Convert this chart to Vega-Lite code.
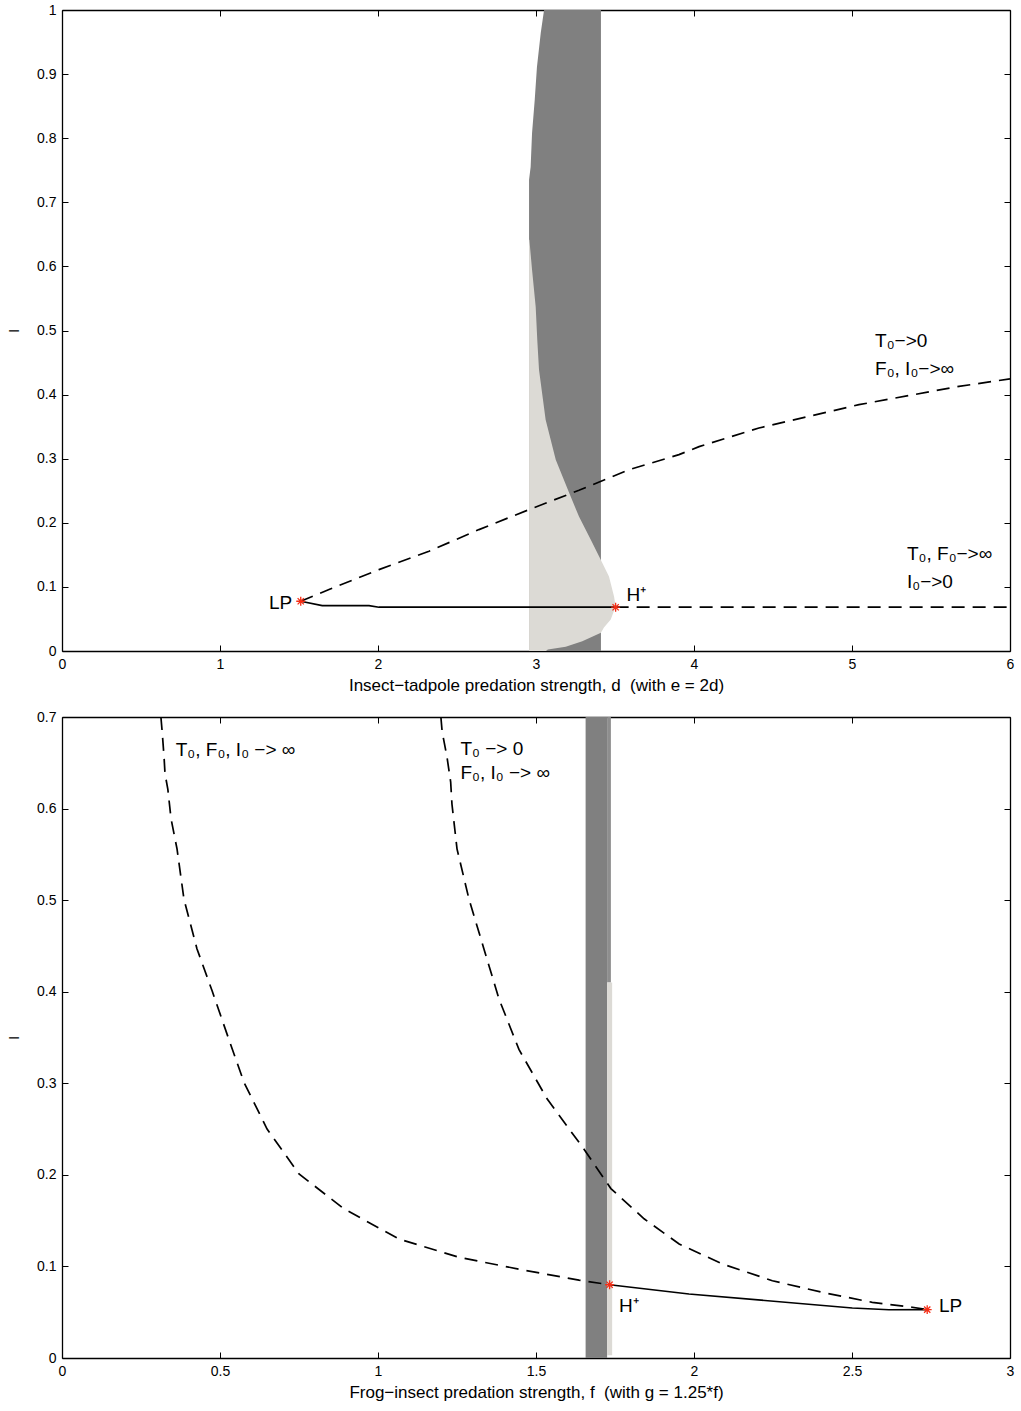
{
  "$schema": "https://vega.github.io/schema/vega-lite/v6.json",
  "padding": {"left": 6, "top": 3, "right": 5, "bottom": 5},
  "background": "white",
  "spacing": 17,
  "config": {
    "font": "Liberation Sans",
    "view": {"stroke": null},
    "axis": {
      "grid": false,
      "domainColor": "black",
      "domainWidth": 1.3,
      "tickColor": "black",
      "tickSize": -6,
      "tickWidth": 1,
      "labelFont": "Liberation Sans",
      "labelFontSize": 14,
      "labelColor": "black",
      "titleFont": "Liberation Sans",
      "titleFontSize": 17,
      "titleFontWeight": "normal",
      "titleColor": "black",
      "labelFlush": false,
      "labelOverlap": false,
      "format": "~g"
    },
    "axisX": {"labelPadding": 12, "titlePadding": 6},
    "axisY": {"labelPadding": 12, "titlePadding": 15, "titleFontSize": 15}
  },
  "datasets": {
    "topDark": [
      {"I": 0, "left": 2.956, "right": 3.411},
      {"I": 0.735, "left": 2.956, "right": 3.411},
      {"I": 0.755, "left": 2.966, "right": 3.411},
      {"I": 0.808, "left": 2.975, "right": 3.411},
      {"I": 0.86, "left": 2.992, "right": 3.411},
      {"I": 0.911, "left": 3.006, "right": 3.411},
      {"I": 0.964, "left": 3.03, "right": 3.411},
      {"I": 1.0, "left": 3.051, "right": 3.411}
    ],
    "topLight": [
      {"I": 0, "left": 2.956, "right": 3.063},
      {"I": 0.0023, "left": 2.956, "right": 3.075},
      {"I": 0.0065, "left": 2.956, "right": 3.188},
      {"I": 0.0153, "left": 2.956, "right": 3.293},
      {"I": 0.0284, "left": 2.956, "right": 3.411},
      {"I": 0.0366, "left": 2.956, "right": 3.43},
      {"I": 0.0491, "left": 2.956, "right": 3.473},
      {"I": 0.0693, "left": 2.956, "right": 3.504},
      {"I": 0.0849, "left": 2.956, "right": 3.494},
      {"I": 0.1161, "left": 2.956, "right": 3.462},
      {"I": 0.1426, "left": 2.956, "right": 3.409},
      {"I": 0.1738, "left": 2.956, "right": 3.346},
      {"I": 0.2097, "left": 2.956, "right": 3.272},
      {"I": 0.2471, "left": 2.956, "right": 3.209},
      {"I": 0.2985, "left": 2.956, "right": 3.125},
      {"I": 0.3609, "left": 2.956, "right": 3.061},
      {"I": 0.4388, "left": 2.956, "right": 3.019},
      {"I": 0.4856, "left": 2.956, "right": 3.008},
      {"I": 0.5371, "left": 2.956, "right": 2.998},
      {"I": 0.5947, "left": 2.956, "right": 2.975},
      {"I": 0.6415, "left": 2.956, "right": 2.958}
    ],
    "topUpper": [
      {"d": 1.511, "I": 0.0776},
      {"d": 1.69, "I": 0.0959},
      {"d": 2.006, "I": 0.127},
      {"d": 2.323, "I": 0.1556},
      {"d": 2.639, "I": 0.1894},
      {"d": 2.956, "I": 0.2206},
      {"d": 3.272, "I": 0.2507},
      {"d": 3.589, "I": 0.2829},
      {"d": 3.905, "I": 0.3063},
      {"d": 4.032, "I": 0.3188},
      {"d": 4.411, "I": 0.3479},
      {"d": 5.044, "I": 0.3843},
      {"d": 5.677, "I": 0.4128},
      {"d": 6.0, "I": 0.4245}
    ],
    "topSolid": [
      {"d": 1.511, "I": 0.0776},
      {"d": 1.647, "I": 0.0709},
      {"d": 1.943, "I": 0.0709},
      {"d": 2.006, "I": 0.0683},
      {"d": 3.504, "I": 0.0683}
    ],
    "topLower": [
      {"d": 3.504, "I": 0.0683},
      {"d": 6.0, "I": 0.0683}
    ],
    "topStars": [
      {"d": 1.511, "I": 0.0776},
      {"d": 3.504, "I": 0.0683}
    ],
    "topText": [
      {"d": 1.31, "I": 0.0658, "label": "LP"},
      {"d": 3.573, "I": 0.0776, "label": "H⁺"},
      {"d": 5.146, "I": 0.475, "label": "T₀−>0"},
      {"d": 5.146, "I": 0.431, "label": "F₀, I₀−>∞"},
      {"d": 5.348, "I": 0.1426, "label": "T₀, F₀−>∞"},
      {"d": 5.348, "I": 0.099, "label": "I₀−>0"}
    ],
    "botBand": [
      {"f1": 1.657, "f2": 1.725, "I1": 0, "I2": 0.7}
    ],
    "botMid": [
      {"f1": 1.725, "f2": 1.737, "I1": 0.41, "I2": 0.7}
    ],
    "botLight": [
      {"f1": 1.725, "f2": 1.741, "I1": 0.003, "I2": 0.41}
    ],
    "botLeft": [
      {"f": 0.313, "I": 0.7},
      {"f": 0.317, "I": 0.684},
      {"f": 0.323, "I": 0.656},
      {"f": 0.326, "I": 0.638},
      {"f": 0.335, "I": 0.621},
      {"f": 0.345, "I": 0.589},
      {"f": 0.364, "I": 0.556},
      {"f": 0.386, "I": 0.501},
      {"f": 0.427, "I": 0.447},
      {"f": 0.475, "I": 0.401},
      {"f": 0.528, "I": 0.348},
      {"f": 0.576, "I": 0.301},
      {"f": 0.649, "I": 0.25},
      {"f": 0.75, "I": 0.201},
      {"f": 0.892, "I": 0.163},
      {"f": 1.066, "I": 0.13},
      {"f": 1.256, "I": 0.11},
      {"f": 1.446, "I": 0.097},
      {"f": 1.636, "I": 0.085},
      {"f": 1.733, "I": 0.08}
    ],
    "botRight": [
      {"f": 1.199, "I": 0.7},
      {"f": 1.203, "I": 0.684},
      {"f": 1.218, "I": 0.657},
      {"f": 1.23, "I": 0.629},
      {"f": 1.234, "I": 0.605},
      {"f": 1.25, "I": 0.556},
      {"f": 1.288, "I": 0.501},
      {"f": 1.335, "I": 0.447},
      {"f": 1.383, "I": 0.392},
      {"f": 1.446, "I": 0.337},
      {"f": 1.535, "I": 0.283},
      {"f": 1.652, "I": 0.228},
      {"f": 1.737, "I": 0.185},
      {"f": 1.842, "I": 0.152},
      {"f": 1.953, "I": 0.1245},
      {"f": 2.09, "I": 0.1027},
      {"f": 2.248, "I": 0.0844},
      {"f": 2.406, "I": 0.0717},
      {"f": 2.564, "I": 0.0608},
      {"f": 2.691, "I": 0.0554},
      {"f": 2.738, "I": 0.0528}
    ],
    "botSolid": [
      {"f": 1.733, "I": 0.08},
      {"f": 1.984, "I": 0.0699},
      {"f": 2.501, "I": 0.0546},
      {"f": 2.617, "I": 0.0527},
      {"f": 2.738, "I": 0.0528}
    ],
    "botStars": [
      {"f": 1.733, "I": 0.08},
      {"f": 2.738, "I": 0.0528}
    ],
    "botText": [
      {"f": 0.36, "I": 0.657, "label": "T₀, F₀, I₀ −> ∞"},
      {"f": 1.261, "I": 0.658, "label": "T₀ −> 0"},
      {"f": 1.261, "I": 0.632, "label": "F₀, I₀ −> ∞"},
      {"f": 1.763, "I": 0.0499, "label": "H⁺"},
      {"f": 2.775, "I": 0.0499, "label": "LP"}
    ]
  },
  "vconcat": [
    {
      "width": 948,
      "height": 641,
      "layer": [
        {
          "data": {"name": "topDark"},
          "mark": {"type": "area", "orient": "horizontal", "color": "#808080", "opacity": 1},
          "encoding": {
            "y": {"field": "I", "type": "quantitative", "scale": {"domain": [0, 1], "nice": false},
                  "axis": {"orient": "left", "title": "I", "values": [0, 0.1, 0.2, 0.3, 0.4, 0.5, 0.6, 0.7, 0.8, 0.9, 1]}},
            "x": {"field": "left", "type": "quantitative", "scale": {"domain": [0, 6], "nice": false},
                  "axis": {"orient": "bottom", "title": "Insect−tadpole predation strength, d\u00a0 (with e = 2d)", "values": [0, 1, 2, 3, 4, 5, 6]}},
            "x2": {"field": "right"}
          }
        },
        {
          "data": {"name": "topLight"},
          "mark": {"type": "area", "orient": "horizontal", "color": "#dcdad5", "opacity": 1},
          "encoding": {
            "y": {"field": "I", "type": "quantitative", "axis": null},
            "x": {"field": "left", "type": "quantitative", "axis": null},
            "x2": {"field": "right"}
          }
        },
        {
          "data": {"name": "topUpper"},
          "mark": {"type": "line", "color": "black", "strokeWidth": 1.7, "strokeDash": [13, 8]},
          "encoding": {
            "x": {"field": "d", "type": "quantitative", "axis": null},
            "y": {"field": "I", "type": "quantitative", "axis": null}
          }
        },
        {
          "data": {"name": "topLower"},
          "mark": {"type": "line", "color": "black", "strokeWidth": 1.7, "strokeDash": [13, 8]},
          "encoding": {
            "x": {"field": "d", "type": "quantitative", "axis": null},
            "y": {"field": "I", "type": "quantitative", "axis": null}
          }
        },
        {
          "data": {"name": "topSolid"},
          "mark": {"type": "line", "color": "black", "strokeWidth": 1.7},
          "encoding": {
            "x": {"field": "d", "type": "quantitative", "axis": null},
            "y": {"field": "I", "type": "quantitative", "axis": null}
          }
        },
        {
          "data": {"name": "topStars"},
          "mark": {"type": "point", "shape": "M-1,0L1,0M0,-1L0,1M-0.7,-0.7L0.7,0.7M-0.7,0.7L0.7,-0.7", "filled": false, "stroke": "#f52c14", "strokeWidth": 1.3, "size": 80, "opacity": 1},
          "encoding": {
            "x": {"field": "d", "type": "quantitative", "axis": null},
            "y": {"field": "I", "type": "quantitative", "axis": null}
          }
        },
        {
          "data": {"name": "topText"},
          "mark": {"type": "text", "align": "left", "baseline": "alphabetic", "fontSize": 19, "font": "Liberation Sans", "color": "black"},
          "encoding": {
            "x": {"field": "d", "type": "quantitative", "axis": null},
            "y": {"field": "I", "type": "quantitative", "axis": null},
            "text": {"field": "label"}
          }
        },
        {
          "data": {"name": "topStars"},
          "mark": {"type": "point", "opacity": 0},
          "encoding": {
            "x": {"field": "d", "type": "quantitative",
                  "axis": {"orient": "top", "labels": false, "title": null, "values": [0, 1, 2, 3, 4, 5, 6]}},
            "y": {"field": "I", "type": "quantitative",
                  "axis": {"orient": "right", "labels": false, "title": null, "values": [0, 0.1, 0.2, 0.3, 0.4, 0.5, 0.6, 0.7, 0.8, 0.9, 1]}}
          }
        }
      ]
    },
    {
      "width": 948,
      "height": 641,
      "layer": [
        {
          "data": {"name": "botBand"},
          "mark": {"type": "rect", "color": "#808080"},
          "encoding": {
            "x": {"field": "f1", "type": "quantitative", "scale": {"domain": [0, 3], "nice": false},
                  "axis": {"orient": "bottom", "title": "Frog−insect predation strength, f\u00a0 (with g = 1.25*f)", "values": [0, 0.5, 1, 1.5, 2, 2.5, 3]}},
            "x2": {"field": "f2"},
            "y": {"field": "I1", "type": "quantitative", "scale": {"domain": [0, 0.7], "nice": false},
                  "axis": {"orient": "left", "title": "I", "values": [0, 0.1, 0.2, 0.3, 0.4, 0.5, 0.6, 0.7]}},
            "y2": {"field": "I2"}
          }
        },
        {
          "data": {"name": "botMid"},
          "mark": {"type": "rect", "color": "#8e8e8e"},
          "encoding": {
            "x": {"field": "f1", "type": "quantitative", "axis": null},
            "x2": {"field": "f2"},
            "y": {"field": "I1", "type": "quantitative", "axis": null},
            "y2": {"field": "I2"}
          }
        },
        {
          "data": {"name": "botLight"},
          "mark": {"type": "rect", "color": "#dcdad5"},
          "encoding": {
            "x": {"field": "f1", "type": "quantitative", "axis": null},
            "x2": {"field": "f2"},
            "y": {"field": "I1", "type": "quantitative", "axis": null},
            "y2": {"field": "I2"}
          }
        },
        {
          "data": {"name": "botLeft"},
          "mark": {"type": "line", "color": "black", "strokeWidth": 1.7, "strokeDash": [13, 8]},
          "encoding": {
            "x": {"field": "f", "type": "quantitative", "axis": null},
            "y": {"field": "I", "type": "quantitative", "axis": null}
          }
        },
        {
          "data": {"name": "botRight"},
          "mark": {"type": "line", "color": "black", "strokeWidth": 1.7, "strokeDash": [13, 8]},
          "encoding": {
            "x": {"field": "f", "type": "quantitative", "axis": null},
            "y": {"field": "I", "type": "quantitative", "axis": null}
          }
        },
        {
          "data": {"name": "botSolid"},
          "mark": {"type": "line", "color": "black", "strokeWidth": 1.7},
          "encoding": {
            "x": {"field": "f", "type": "quantitative", "axis": null},
            "y": {"field": "I", "type": "quantitative", "axis": null}
          }
        },
        {
          "data": {"name": "botStars"},
          "mark": {"type": "point", "shape": "M-1,0L1,0M0,-1L0,1M-0.7,-0.7L0.7,0.7M-0.7,0.7L0.7,-0.7", "filled": false, "stroke": "#f52c14", "strokeWidth": 1.3, "size": 80, "opacity": 1},
          "encoding": {
            "x": {"field": "f", "type": "quantitative", "axis": null},
            "y": {"field": "I", "type": "quantitative", "axis": null}
          }
        },
        {
          "data": {"name": "botText"},
          "mark": {"type": "text", "align": "left", "baseline": "alphabetic", "fontSize": 19, "font": "Liberation Sans", "color": "black"},
          "encoding": {
            "x": {"field": "f", "type": "quantitative", "axis": null},
            "y": {"field": "I", "type": "quantitative", "axis": null},
            "text": {"field": "label"}
          }
        },
        {
          "data": {"name": "botStars"},
          "mark": {"type": "point", "opacity": 0},
          "encoding": {
            "x": {"field": "f", "type": "quantitative",
                  "axis": {"orient": "top", "labels": false, "title": null, "values": [0, 0.5, 1, 1.5, 2, 2.5, 3]}},
            "y": {"field": "I", "type": "quantitative",
                  "axis": {"orient": "right", "labels": false, "title": null, "values": [0, 0.1, 0.2, 0.3, 0.4, 0.5, 0.6, 0.7]}}
          }
        }
      ]
    }
  ]
}
